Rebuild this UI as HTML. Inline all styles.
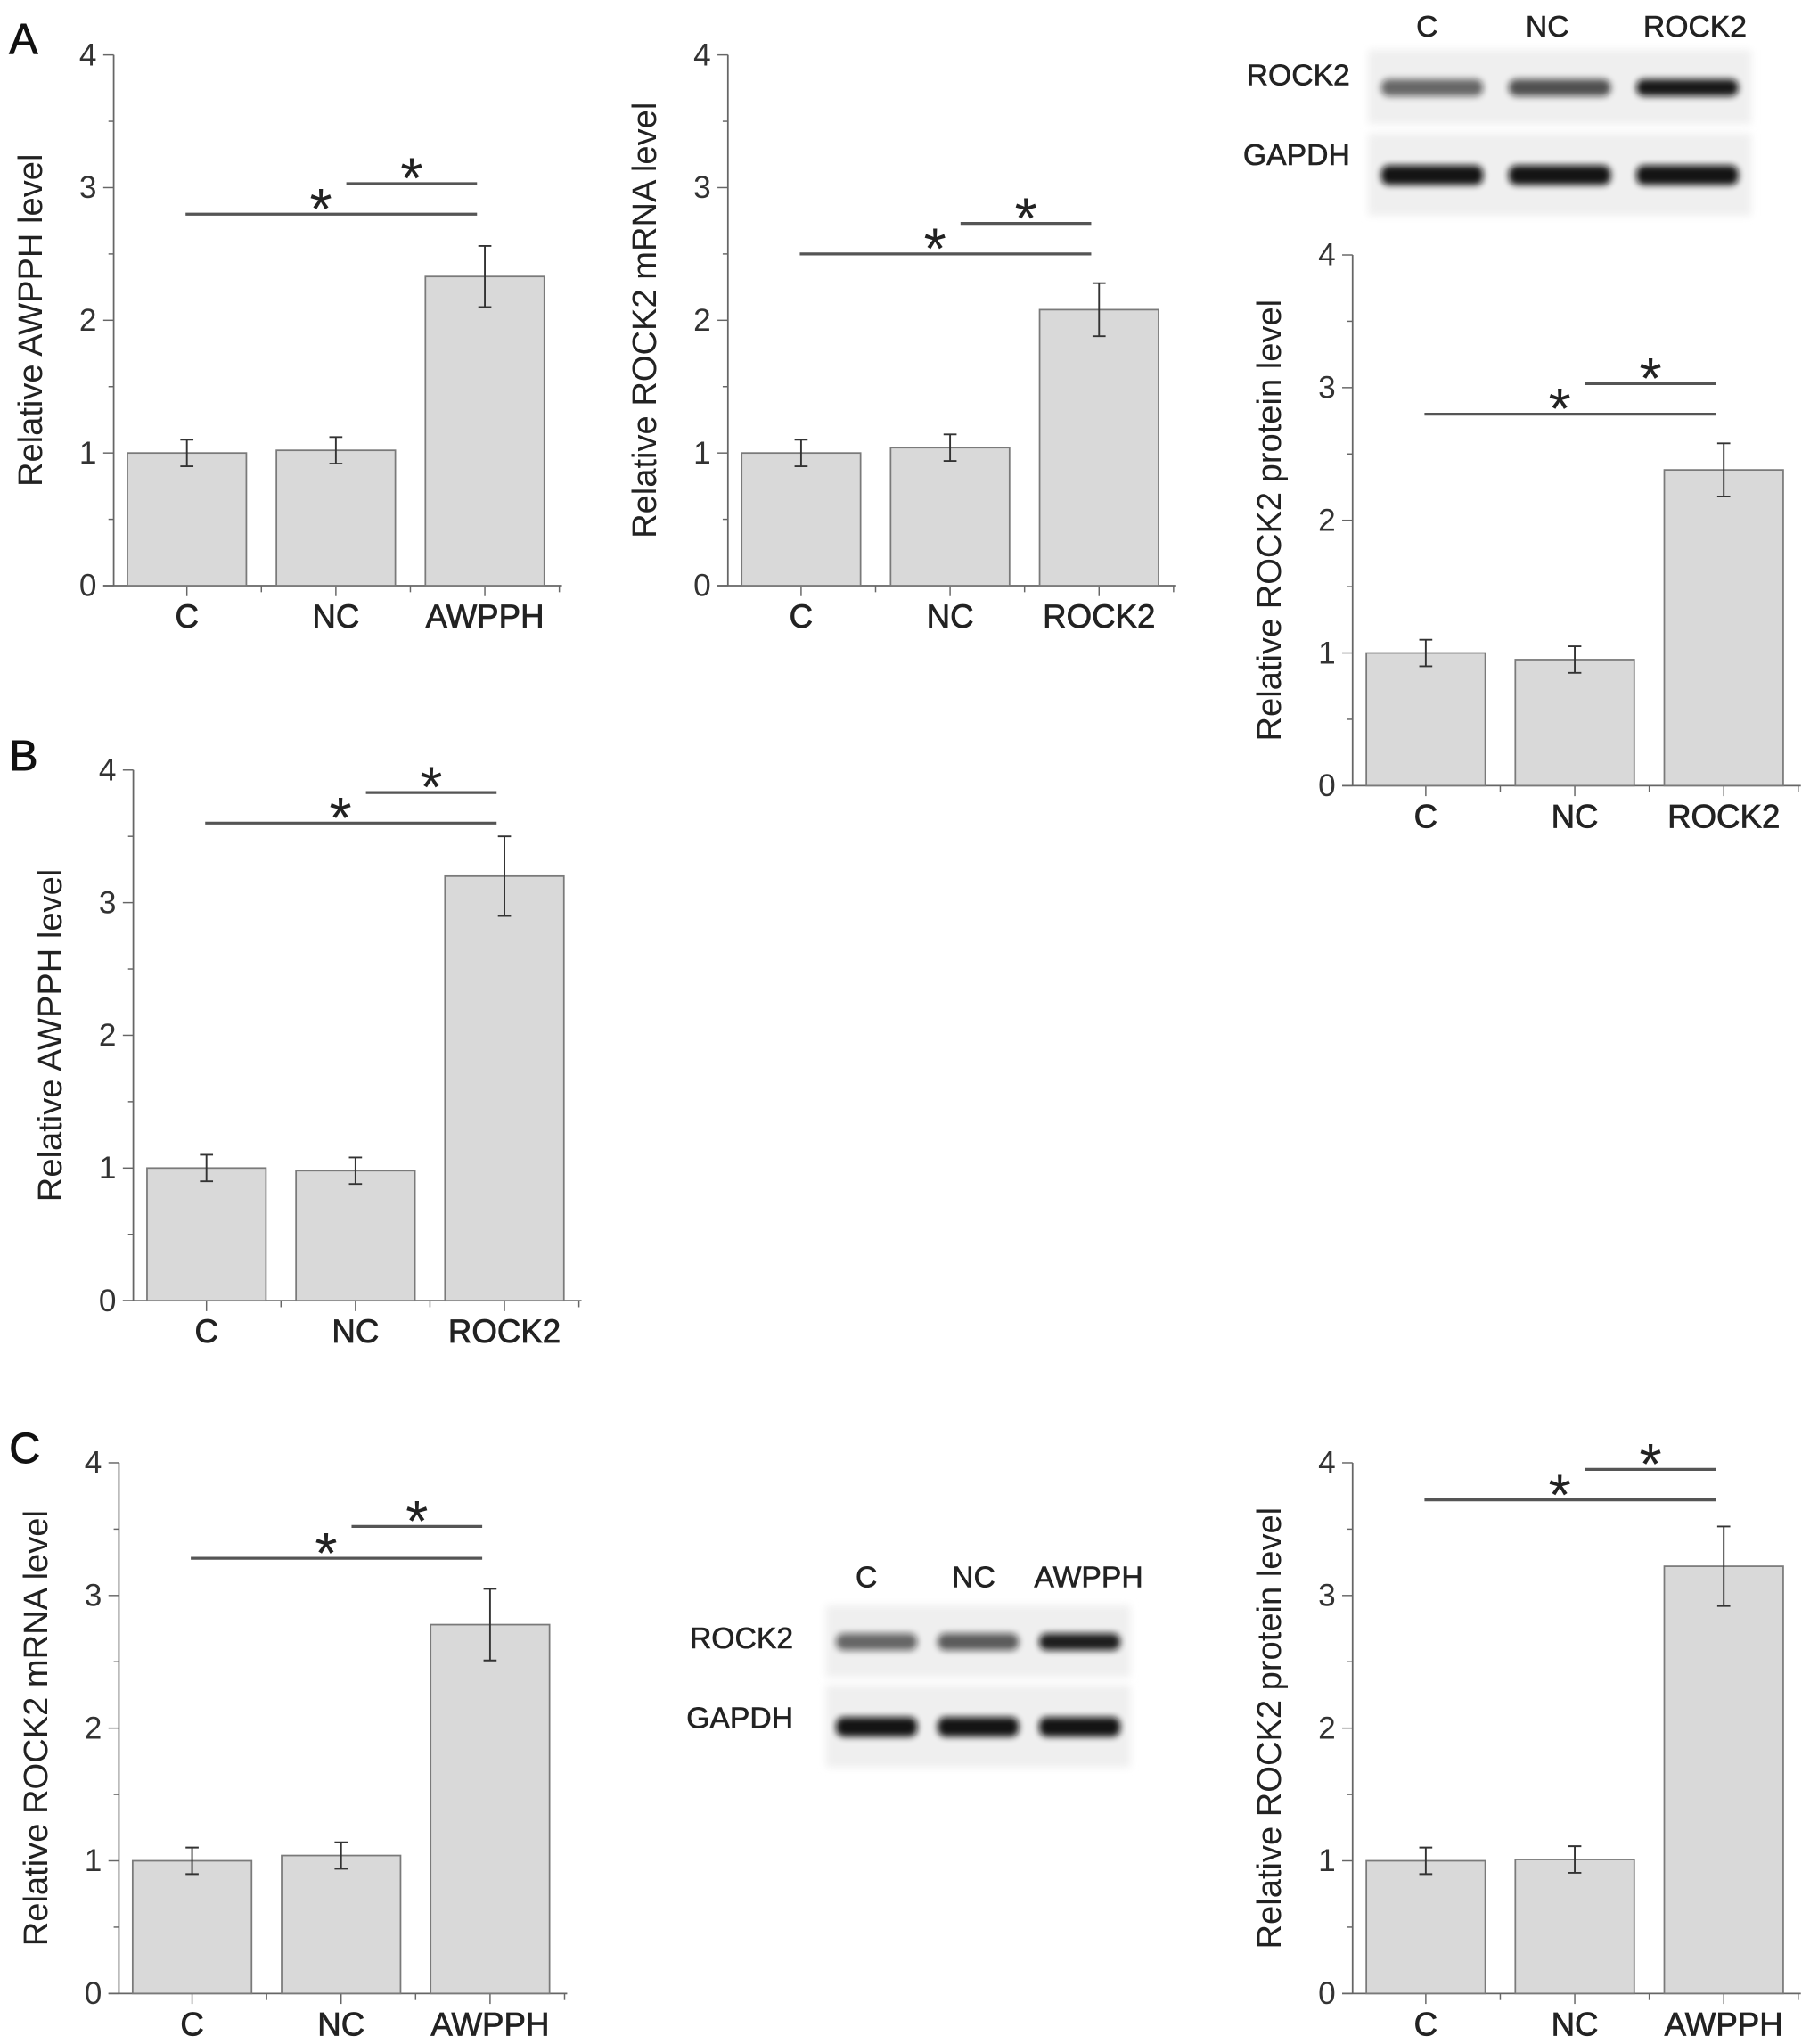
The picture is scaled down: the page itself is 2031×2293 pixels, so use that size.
<!DOCTYPE html>
<html><head><meta charset="utf-8">
<style>
html,body{margin:0;padding:0;background:#fff;}
svg{display:block;}
text{font-family:"Liberation Sans",sans-serif;}
</style></head>
<body>
<svg id="fig" width="2031" height="2293" viewBox="0 0 1385 1563.6" xmlns="http://www.w3.org/2000/svg">
<defs>
<filter id="blur" x="-20%" y="-50%" width="140%" height="200%"><feGaussianBlur stdDeviation="2.5"/></filter>
<filter id="blur2" x="-10%" y="-10%" width="120%" height="120%"><feGaussianBlur stdDeviation="3"/></filter>
</defs>
<text x="7" y="41" font-size="33" fill="#111" stroke="#111" stroke-width="0.6">A</text>
<text x="7" y="589" font-size="33" fill="#111" stroke="#111" stroke-width="0.6">B</text>
<text x="7" y="1119" font-size="33" fill="#111" stroke="#111" stroke-width="0.6">C</text>
<g id="charts"></g>
<g id="blots"></g>
</svg>
<script>
// ---- chart data ----
const catsA1 = ["C","NC","AWPPH"];
const valsA1 = [1.0, 1.02, 2.33];
const errsA1 = [0.1, 0.1, 0.23];
const catsA2 = ["C","NC","ROCK2"];
const valsA2 = [1.0, 1.04, 2.08];
const errsA2 = [0.1, 0.1, 0.2];
const catsA3 = ["C","NC","ROCK2"];
const valsA3 = [1.0, 0.95, 2.38];
const errsA3 = [0.1, 0.1, 0.2];
const catsB = ["C","NC","ROCK2"];
const valsB = [1.0, 0.98, 3.2];
const errsB = [0.1, 0.1, 0.3];
const catsC1 = ["C","NC","AWPPH"];
const valsC1 = [1.0, 1.04, 2.78];
const errsC1 = [0.1, 0.1, 0.27];
const catsC3 = ["C","NC","AWPPH"];
const valsC3 = [1.0, 1.01, 3.22];
const errsC3 = [0.1, 0.1, 0.3];
const yTicks = [0,1,2,3,4];
// significance bar heights (data units): [long, short]
const sigA1 = [2.8, 3.03];
const sigA2 = [2.5, 2.73];
const sigA3 = [2.8, 3.03];
const sigB = [3.6, 3.83];
const sigC1 = [3.28, 3.52];
const sigC3 = [3.72, 3.95];

const NS = "http://www.w3.org/2000/svg";
function mk(parent, tag, attrs){
  const e = document.createElementNS(NS, tag);
  for (const k in attrs) e.setAttribute(k, attrs[k]);
  parent.appendChild(e);
  return e;
}

function drawChart(id, ax, y0, y4, cats, vals, errs, sig, title){
  const root = document.getElementById('charts');
  const g = mk(root, 'g', {});
  
  
  const yS = v => y0 - (y0 - y4) * v / 4;
  const slot = 114;
  const bw = 91;
  const firstC = ax + 56;
  const xC = i => firstC + i * slot;
  const axisCol = "#666";
  const ya = mk(g, 'line', {x1:ax, y1:y4, x2:ax, y2:y0, stroke:axisCol, 'stroke-width':1.2});
  
  
  const xa = mk(g, 'line', {x1:ax-8, y1:y0, x2:ax+343, y2:y0, stroke:axisCol, 'stroke-width':1.2});
  
  
  for (let v = 0; v <= 4.001; v += 0.5){
    const major = Math.abs(v - Math.round(v)) < 1e-6;
    mk(g, 'line', {x1:ax-(major?8:4), y1:yS(v), x2:ax, y2:yS(v), stroke:axisCol, 'stroke-width':1});
  }
  yTicks.forEach(v => {
    const t = mk(g, 'text', {x:ax-13, y:yS(v)+8, 'text-anchor':'end', 'font-size':24, fill:'#333'});
    t.textContent = v;
    
    
  });
  for (let i = 0; i < 3; i++){
    mk(g, 'line', {x1:xC(i)+slot/2, y1:y0, x2:xC(i)+slot/2, y2:y0+5, stroke:axisCol, 'stroke-width':1});
    mk(g, 'line', {x1:xC(i), y1:y0, x2:xC(i), y2:y0+8, stroke:axisCol, 'stroke-width':1});
  }
  cats.forEach((c, i) => {
    const r = mk(g, 'rect', {x:xC(i)-bw/2, y:yS(vals[i]), width:bw, height:y0-yS(vals[i]), fill:'#d9d9d9', stroke:'#7a7a7a', 'stroke-width':1.2});
    
    
    const eh = yS(vals[i] + errs[i]), el = yS(vals[i] - errs[i]);
    const eb = mk(g, 'path', {d:`M${xC(i)},${eh}V${el}M${xC(i)-5},${eh}H${xC(i)+5}M${xC(i)-5},${el}H${xC(i)+5}`, stroke:'#333', 'stroke-width':1.3, fill:'none'});
    
    
    const t = mk(g, 'text', {x:xC(i), y:y0+32, 'text-anchor':'middle', 'font-size':25, fill:'#222', stroke:'#222', 'stroke-width':0.5});
    t.textContent = c;
    
    
  });
  const xl = xC(0) - 1, xm = xC(1) + 8, xr = xC(2) - 6;
  const l1 = mk(g, 'line', {x1:xl, y1:yS(sig[0]), x2:xr, y2:yS(sig[0]), stroke:'#555', 'stroke-width':2.2});
  
  
  const l2 = mk(g, 'line', {x1:xm, y1:yS(sig[1]), x2:xr, y2:yS(sig[1]), stroke:'#555', 'stroke-width':2.2});
  
  
  const s1 = mk(g, 'text', {x:(xl+xr)/2-8, y:yS(sig[0])+11, 'text-anchor':'middle', 'font-size':44, fill:'#222'});
  s1.textContent = '*';
  
  
  const s2 = mk(g, 'text', {x:(xm+xr)/2, y:yS(sig[1])+11, 'text-anchor':'middle', 'font-size':44, fill:'#222'});
  s2.textContent = '*';
  
  
  const tt = mk(g, 'text', {x:0, y:0, 'text-anchor':'middle', 'font-size':26, fill:'#222', transform:`translate(${ax-55},${(y0+y4)/2}) rotate(-90)`});
  tt.textContent = title;
  
  
}

drawChart('chart-a-awpph', 87, 448, 42, catsA1, valsA1, errsA1, sigA1, 'Relative AWPPH level');
drawChart('chart-a-rock2-mrna', 557, 448, 42, catsA2, valsA2, errsA2, sigA2, 'Relative ROCK2 mRNA level');
drawChart('chart-a-rock2-protein', 1035, 601, 195, catsA3, valsA3, errsA3, sigA3, 'Relative ROCK2 protein level');
drawChart('chart-b-awpph', 102, 995, 589, catsB, valsB, errsB, sigB, 'Relative AWPPH level');
drawChart('chart-c-rock2-mrna', 91, 1525, 1119, catsC1, valsC1, errsC1, sigC1, 'Relative ROCK2 mRNA level');
drawChart('chart-c-rock2-protein', 1035, 1525, 1119, catsC3, valsC3, errsC3, sigC3, 'Relative ROCK2 protein level');

// ---- blots ----
const blotLanesA = ["C","NC","ROCK2"];
const rockIntA = [0.6, 0.7, 0.95];
const blotLanesC = ["C","NC","AWPPH"];
const rockIntC = [0.6, 0.65, 0.92];

function drawBlot(id, x0, x1, lanesX, lanes, rockInt, labelY, rockY, gapY, labelX, strip1, strip2){
  const root = document.getElementById('blots');
  const g = mk(root, 'g', {});
  
  
  [strip1, strip2].forEach(s => {
    const r = mk(g, 'rect', {x:x0, y:s[0], width:x1-x0, height:s[1]-s[0], fill:'#efefef', filter:'url(#blur2)'});
    
    
  });
  const bw = (x1 - x0) / 3 * 0.8;
  lanes.forEach((c, i) => {
    const t = mk(g, 'text', {x:lanesX[i], y:labelY, 'text-anchor':'middle', 'font-size':23, fill:'#222', stroke:'#222', 'stroke-width':0.4});
    t.textContent = c;
    
    
    const cx = x0 + (x1 - x0) * (i + 0.5) / 3;
    const b1 = mk(g, 'rect', {x:cx-bw/2, y:(strip1[0]+strip1[1])/2-6, width:bw, height:13, rx:6, fill:'#111', opacity:rockInt[i], filter:'url(#blur)'});
    
    
    const b2 = mk(g, 'rect', {x:cx-bw/2, y:(strip2[0]+strip2[1])/2-7, width:bw, height:15, rx:6, fill:'#0a0a0a', opacity:0.97, filter:'url(#blur)'});
    
    
  });
  const r1 = mk(g, 'text', {x:labelX, y:rockY, 'text-anchor':'end', 'font-size':23, fill:'#222', stroke:'#222', 'stroke-width':0.4});
  r1.textContent = 'ROCK2';
  
  
  const r2 = mk(g, 'text', {x:labelX, y:gapY, 'text-anchor':'end', 'font-size':23, fill:'#222', stroke:'#222', 'stroke-width':0.4});
  r2.textContent = 'GAPDH';
  
  
}
drawBlot('western-blot-a', 1047, 1340, [1092,1184,1297], blotLanesA, rockIntA, 28, 65, 126, 1033, [38,95], [102,165]);
drawBlot('western-blot-c', 632, 865, [663,745,833], blotLanesC, rockIntC, 1214, 1261, 1322, 607, [1228,1283], [1289,1352]);
</script>
</body></html>
